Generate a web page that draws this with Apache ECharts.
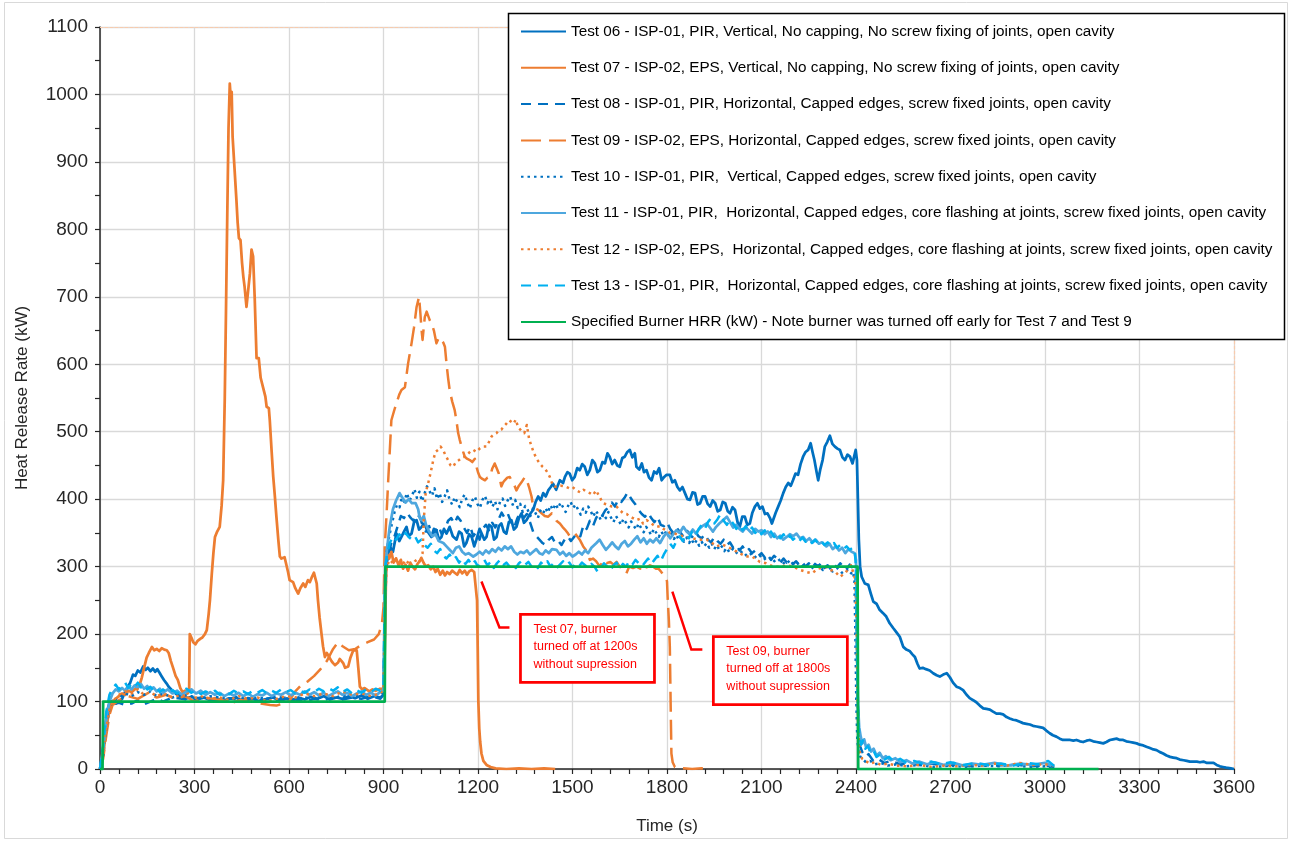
<!DOCTYPE html>
<html>
<head>
<meta charset="utf-8">
<script src="https://cdn.jsdelivr.net/npm/echarts@6/dist/echarts.min.js"></script>
<style>
  html, body { margin: 0; padding: 0; background: #fff; }
  #chart { width: 1290px; height: 841px; }
</style>
</head>
<body>
<div id="chart"></div>
<script>
// Heat release rate curves, [time s, HRR kW]
const seriesNames = [
  'Test 06 - ISP-01, PIR, Vertical, No capping, No screw fixing of joints, open cavity',
  'Test 07 - ISP-02, EPS, Vertical, No capping, No screw fixing of joints, open cavity',
  'Test 08 - ISP-01, PIR, Horizontal, Capped edges, screw fixed joints, open cavity',
  'Test 09 - ISP-02, EPS, Horizontal, Capped edges, screw fixed joints, open cavity',
  'Test 10 - ISP-01, PIR,  Vertical, Capped edges, screw fixed joints, open cavity',
  'Test 11 - ISP-01, PIR,  Horizontal, Capped edges, core flashing at joints, screw fixed joints, open cavity',
  'Test 12 - ISP-02, EPS,  Horizontal, Capped edges, core flashing at joints, screw fixed joints, open cavity',
  'Test 13 - ISP-01, PIR,  Horizontal, Capped edges, core flashing at joints, screw fixed joints, open cavity',
  'Specified Burner HRR (kW) - Note burner was turned off early for Test 7 and Test 9'
];

const timeTicks = { min: 0, max: 3600, step: 300 };
const hrrTicks = { min: 0, max: 1100, step: 100 };

const test06 = [[0,0],[8,20],[15,55],[22,85],[30,98],[40,101],[50,97],[60,100],[70,104],[80,115],[88,122],[96,128],[105,140],[112,138],[120,146],[128,143],[137,152],[145,147],[152,150],[160,145],[168,149],[175,144],[182,148],[190,142],[196,137],[203,132],[211,127],[218,122],[226,118],[235,114],[245,110],[255,108],[270,104],[290,107],[310,103],[330,106],[350,102],[370,105],[390,101],[410,104],[430,106],[450,102],[470,105],[490,103],[510,100],[530,104],[550,106],[570,101],[590,104],[610,102],[630,106],[650,103],[670,107],[690,104],[710,108],[730,103],[750,106],[770,104],[790,108],[810,105],[830,109],[850,104],[870,108],[890,106],[900,110],[904,200],[908,300],[914,318],[920,330],[930,322],[941,349],[950,338],[957,344],[965,352],[973,359],[980,345],[989,349],[997,366],[1005,369],[1013,355],[1021,359],[1030,364],[1040,352],[1052,344],[1060,356],[1068,354],[1076,340],[1084,344],[1092,356],[1100,349],[1110,359],[1120,345],[1132,340],[1140,352],[1148,349],[1156,330],[1163,335],[1172,348],[1180,344],[1188,330],[1195,340],[1205,356],[1211,354],[1220,340],[1227,344],[1235,362],[1243,359],[1251,340],[1259,344],[1266,360],[1274,364],[1282,352],[1290,349],[1298,366],[1306,369],[1314,355],[1322,359],[1330,372],[1338,379],[1346,365],[1354,369],[1365,378],[1375,384],[1383,396],[1391,404],[1399,398],[1407,409],[1415,404],[1423,413],[1431,418],[1438,423],[1448,414],[1460,428],[1470,424],[1476,433],[1484,440],[1491,438],[1499,428],[1507,433],[1515,446],[1523,443],[1531,452],[1539,448],[1547,436],[1555,443],[1563,458],[1571,453],[1579,440],[1587,443],[1595,455],[1603,453],[1611,468],[1618,463],[1626,452],[1634,458],[1642,450],[1650,448],[1658,461],[1666,463],[1674,470],[1682,473],[1690,462],[1698,468],[1703,448],[1712,444],[1720,453],[1727,440],[1735,443],[1743,432],[1751,428],[1759,441],[1767,438],[1775,446],[1783,428],[1791,433],[1798,436],[1809,436],[1817,425],[1825,428],[1833,418],[1841,413],[1849,418],[1857,409],[1865,400],[1873,399],[1881,410],[1889,409],[1897,392],[1905,394],[1913,404],[1921,404],[1929,393],[1937,389],[1945,398],[1953,394],[1961,382],[1969,384],[1977,396],[1985,394],[1993,382],[2000,379],[2008,388],[2016,384],[2024,366],[2031,359],[2039,374],[2047,374],[2055,362],[2063,364],[2071,380],[2079,389],[2087,394],[2095,386],[2103,389],[2111,378],[2119,379],[2127,372],[2133,364],[2137,364],[2145,380],[2153,389],[2161,398],[2169,409],[2177,418],[2185,424],[2193,420],[2200,428],[2208,438],[2216,436],[2224,452],[2232,463],[2240,470],[2248,473],[2256,483],[2262,470],[2268,458],[2275,440],[2280,428],[2287,445],[2294,458],[2301,478],[2309,485],[2317,494],[2325,482],[2333,478],[2341,475],[2349,473],[2357,462],[2365,458],[2373,466],[2381,463],[2389,453],[2395,465],[2399,473],[2403,458],[2406,400],[2409,340],[2413,300],[2418,285],[2428,275],[2439,273],[2447,260],[2455,248],[2465,245],[2475,236],[2486,231],[2496,226],[2507,216],[2518,209],[2528,203],[2539,196],[2550,181],[2560,177],[2570,175],[2579,170],[2587,166],[2595,156],[2602,149],[2612,150],[2622,148],[2634,146],[2645,142],[2656,139],[2666,137],[2677,140],[2688,142],[2698,136],[2708,128],[2719,122],[2730,120],[2740,117],[2751,110],[2761,105],[2772,102],[2782,99],[2793,94],[2804,90],[2814,89],[2825,88],[2835,85],[2846,82],[2857,82],[2867,81],[2878,77],[2888,75],[2899,73],[2910,72],[2920,70],[2930,68],[2941,67],[2952,66],[2962,64],[2973,63],[2983,62],[2994,61],[3004,57],[3015,53],[3025,50],[3036,48],[3047,45],[3057,43],[3068,43],[3080,43],[3090,42],[3100,43],[3111,41],[3121,40],[3132,42],[3142,43],[3153,41],[3164,40],[3174,39],[3185,38],[3195,40],[3206,43],[3216,44],[3227,45],[3238,43],[3248,43],[3258,41],[3270,40],[3280,39],[3291,38],[3301,36],[3312,35],[3322,33],[3333,31],[3344,29],[3354,28],[3365,25],[3375,23],[3386,20],[3397,18],[3407,17],[3418,16],[3428,14],[3440,13],[3450,12],[3460,11],[3470,11],[3482,11],[3492,10],[3503,11],[3514,9],[3524,9],[3535,9],[3545,6],[3555,4],[3565,3],[3575,2],[3590,1],[3600,0]];

const test07 = [[0,0],[10,20],[20,60],[30,90],[40,100],[50,104],[60,108],[70,112],[80,110],[90,116],[100,114],[110,118],[120,122],[128,128],[133,136],[140,150],[148,165],[155,172],[165,181],[172,176],[180,178],[188,175],[196,179],[204,177],[212,176],[218,172],[225,160],[232,150],[240,138],[247,132],[255,120],[262,114],[270,116],[278,112],[283,115],[285,200],[290,195],[296,188],[303,185],[310,190],[318,193],[325,195],[333,200],[339,206],[345,230],[349,250],[355,290],[360,320],[365,344],[372,352],[380,359],[386,390],[391,428],[394,500],[396,547],[400,680],[404,820],[408,950],[412,1016],[415,995],[418,1004],[421,937],[426,935],[433,844],[437,810],[441,787],[446,784],[451,750],[455,730],[459,715],[465,685],[470,685],[476,735],[481,770],[486,760],[491,700],[497,609],[504,609],[510,580],[514,582],[518,565],[525,552],[529,537],[536,535],[539,517],[545,470],[550,433],[555,405],[560,374],[566,340],[571,315],[576,312],[581,310],[586,314],[592,312],[597,292],[602,280],[608,282],[613,277],[620,268],[629,260],[636,268],[645,275],[652,270],[660,280],[666,277],[673,285],[679,291],[685,290],[688,275],[692,250],[697,225],[703,201],[708,182],[714,166],[720,172],[725,168],[730,169],[735,160],[740,157],[746,154],[751,152],[756,158],[761,163],[767,160],[772,157],[778,150],[783,148],[788,152],[795,165],[804,176],[809,178],[815,176],[820,150],[825,122],[832,118],[840,120],[846,119],[855,115],[865,118],[875,116],[889,119],[897,118],[902,125],[905,200],[908,290],[912,318],[918,312],[925,322],[932,306],[940,312],[948,302],[955,310],[962,297],[970,303],[978,294],[985,306],[992,300],[1000,296],[1008,304],[1015,308],[1020,313],[1028,305],[1035,300],[1042,302],[1050,296],[1058,300],[1065,292],[1072,297],[1080,288],[1088,294],[1095,287],[1102,292],[1110,289],[1118,294],[1126,291],[1134,288],[1142,295],[1150,290],[1158,294],[1165,288],[1172,293],[1180,295],[1188,292],[1194,290],[1197,250],[1199,180],[1201,102],[1204,60],[1207,40],[1211,23],[1217,12],[1227,6],[1240,3],[1256,1],[1290,0],[1330,1],[1370,0],[1410,1],[1445,0]];

const test08 = [[0,0],[10,30],[20,70],[30,92],[40,96],[60,98],[80,95],[100,97],[120,102],[140,96],[160,100],[180,104],[200,100],[230,106],[260,104],[290,102],[320,106],[350,103],[380,100],[410,105],[440,102],[470,104],[500,101],[530,104],[560,102],[590,106],[620,103],[650,100],[680,104],[710,102],[740,106],[770,103],[800,106],[830,104],[860,108],[890,104],[900,110],[904,240],[908,300],[915,320],[925,335],[935,345],[945,360],[955,375],[965,372],[975,380],[985,373],[995,368],[1005,378],[1015,374],[1025,360],[1035,352],[1045,360],[1055,345],[1065,352],[1075,360],[1085,348],[1095,355],[1105,368],[1115,372],[1125,364],[1135,374],[1145,368],[1155,358],[1165,350],[1175,360],[1185,345],[1195,352],[1205,340],[1215,356],[1225,362],[1235,354],[1245,365],[1255,358],[1265,370],[1275,380],[1285,372],[1295,378],[1305,366],[1315,358],[1325,372],[1335,380],[1345,372],[1355,378],[1365,366],[1375,352],[1385,345],[1395,340],[1405,335],[1415,332],[1425,340],[1435,344],[1445,335],[1455,338],[1465,332],[1475,340],[1485,345],[1495,338],[1505,344],[1515,350],[1525,345],[1535,362],[1545,356],[1555,368],[1565,360],[1575,372],[1585,380],[1595,376],[1605,384],[1615,388],[1625,395],[1635,389],[1645,400],[1655,396],[1665,402],[1675,410],[1682,404],[1690,398],[1700,392],[1710,384],[1720,378],[1730,374],[1740,380],[1750,372],[1760,366],[1770,374],[1780,362],[1790,360],[1800,366],[1810,356],[1820,350],[1830,358],[1840,352],[1850,346],[1860,355],[1870,350],[1880,344],[1890,352],[1900,345],[1910,342],[1920,348],[1930,340],[1940,336],[1950,344],[1960,338],[1970,334],[1980,340],[1990,332],[2000,336],[2010,328],[2020,332],[2030,324],[2040,330],[2050,322],[2060,326],[2070,320],[2080,324],[2090,316],[2100,320],[2110,314],[2120,318],[2130,310],[2140,316],[2150,312],[2160,306],[2170,312],[2180,306],[2190,310],[2200,304],[2210,308],[2220,302],[2230,306],[2240,300],[2250,305],[2260,298],[2270,304],[2280,300],[2290,306],[2300,298],[2310,302],[2320,296],[2330,303],[2340,299],[2350,305],[2360,300],[2370,296],[2380,303],[2390,298],[2398,295],[2402,220],[2405,120],[2408,60],[2412,35],[2420,25],[2430,18],[2440,22],[2455,12],[2470,15],[2490,9],[2510,12],[2540,7],[2570,9],[2600,6],[2640,8],[2680,5],[2720,7],[2760,4],[2800,6],[2850,5],[2900,7],[2950,4],[3000,5],[3030,3]];

const test09 = [[0,0],[10,15],[20,50],[30,80],[40,95],[60,102],[90,108],[120,104],[150,112],[180,106],[210,110],[240,104],[270,108],[300,100],[330,106],[360,104],[390,102],[420,98],[450,103],[480,100],[510,97],[540,95],[560,94],[580,97],[600,100],[620,115],[640,125],[660,130],[680,138],[700,148],[720,160],[740,178],[756,188],[770,182],[790,176],[810,178],[830,184],[850,188],[870,192],[885,200],[895,215],[900,240],[904,330],[910,380],[915,428],[925,517],[933,530],[941,542],[950,555],[957,562],[968,566],[978,601],[989,631],[997,655],[1005,685],[1013,700],[1017,676],[1021,650],[1024,636],[1031,670],[1037,678],[1042,676],[1047,665],[1052,661],[1060,650],[1068,631],[1076,640],[1084,636],[1090,632],[1095,626],[1100,601],[1105,580],[1110,562],[1118,545],[1126,532],[1132,515],[1137,498],[1142,488],[1148,478],[1153,470],[1158,463],[1165,460],[1174,458],[1182,455],[1190,460],[1195,448],[1200,440],[1206,433],[1214,430],[1222,428],[1230,432],[1238,433],[1245,445],[1253,453],[1260,445],[1266,438],[1274,419],[1280,425],[1285,428],[1293,432],[1301,433],[1311,423],[1316,420],[1322,413],[1330,420],[1338,425],[1349,433],[1355,428],[1362,418],[1370,404],[1375,389],[1383,386],[1391,384],[1402,379],[1412,375],[1423,374],[1434,379],[1442,374],[1449,368],[1460,364],[1468,359],[1476,355],[1486,349],[1493,344],[1500,346],[1508,349],[1515,345],[1523,340],[1534,330],[1542,325],[1549,318],[1555,310],[1565,312],[1575,308],[1587,300],[1598,310],[1608,305],[1620,307],[1630,303],[1640,307],[1650,300],[1660,296],[1671,290],[1680,300],[1692,298],[1703,300],[1715,297],[1726,303],[1735,299],[1746,302],[1756,300],[1765,297],[1773,297],[1782,292],[1790,288],[1796,285],[1800,278],[1802,255],[1806,220],[1809,181],[1812,83],[1814,23],[1818,10],[1825,3],[1850,1],[1880,0],[1910,1],[1935,0]];

const test10 = [[0,0],[10,20],[20,60],[30,90],[40,100],[60,106],[80,112],[100,108],[120,114],[140,110],[160,115],[180,108],[200,112],[230,106],[260,110],[290,108],[320,104],[350,108],[380,106],[410,104],[440,107],[470,103],[500,106],[530,104],[560,107],[590,105],[620,103],[650,106],[680,104],[710,108],[740,105],[770,109],[800,106],[830,110],[860,107],[890,112],[900,114],[903,200],[906,290],[910,322],[918,345],[926,362],[935,381],[943,392],[951,388],[958,402],[966,396],[974,409],[982,398],[990,404],[998,415],[1006,402],[1014,411],[1022,397],[1030,408],[1038,419],[1046,412],[1054,405],[1062,416],[1070,400],[1078,409],[1086,396],[1094,404],[1102,413],[1110,399],[1118,392],[1126,403],[1134,396],[1142,388],[1150,401],[1158,407],[1166,395],[1174,386],[1182,398],[1190,404],[1198,393],[1206,387],[1214,399],[1222,405],[1230,394],[1238,400],[1246,389],[1254,397],[1262,385],[1270,396],[1278,401],[1286,390],[1294,398],[1302,404],[1310,392],[1318,399],[1326,387],[1334,393],[1342,381],[1350,390],[1358,384],[1366,375],[1374,386],[1382,380],[1390,372],[1398,383],[1406,378],[1414,387],[1422,380],[1430,391],[1438,384],[1446,393],[1454,386],[1462,395],[1470,388],[1478,381],[1486,390],[1494,396],[1502,387],[1510,392],[1518,384],[1526,377],[1534,386],[1542,380],[1550,389],[1558,382],[1566,374],[1574,383],[1582,377],[1590,369],[1598,378],[1606,372],[1614,381],[1622,373],[1630,366],[1638,375],[1646,369],[1654,362],[1662,371],[1670,365],[1678,358],[1686,367],[1694,361],[1702,355],[1710,364],[1718,357],[1726,351],[1734,359],[1742,353],[1750,347],[1758,356],[1766,350],[1774,344],[1782,352],[1790,346],[1798,353],[1806,344],[1814,349],[1822,341],[1830,347],[1838,339],[1846,345],[1854,337],[1862,343],[1870,335],[1878,341],[1886,333],[1894,339],[1902,331],[1910,337],[1918,330],[1926,335],[1934,328],[1942,334],[1950,326],[1958,332],[1966,325],[1974,330],[1982,323],[1990,328],[1998,321],[2010,327],[2025,318],[2040,323],[2055,315],[2070,320],[2085,312],[2100,317],[2115,309],[2130,314],[2145,306],[2160,311],[2175,303],[2190,309],[2205,301],[2220,306],[2235,299],[2250,304],[2265,297],[2280,302],[2295,295],[2310,300],[2325,293],[2340,298],[2355,291],[2370,296],[2382,289],[2390,293],[2395,280],[2398,200],[2401,100],[2404,45],[2408,25],[2414,18],[2422,14],[2432,10],[2445,12],[2460,7],[2480,9],[2500,5],[2530,7],[2560,4],[2600,6],[2650,3],[2700,5],[2750,3],[2800,5],[2850,4],[2900,6],[2950,3],[3000,4],[3030,2]];

const test11 = [[0,0],[10,30],[20,75],[30,100],[40,112],[50,118],[60,115],[70,120],[80,116],[90,122],[100,118],[110,124],[120,120],[130,126],[140,119],[150,123],[160,117],[170,121],[180,115],[190,119],[200,113],[215,118],[230,112],[245,116],[260,110],[275,115],[290,118],[305,112],[320,116],[335,110],[350,114],[365,110],[380,113],[395,108],[410,112],[425,109],[440,113],[455,108],[470,112],[485,107],[500,111],[515,109],[530,113],[545,108],[560,112],[575,110],[590,114],[605,109],[620,113],[635,110],[650,115],[665,110],[680,114],[695,109],[710,113],[725,108],[740,112],[755,115],[770,110],[785,113],[800,108],[815,112],[830,115],[845,110],[860,113],[875,109],[890,114],[900,116],[903,220],[906,300],[912,330],[920,360],[930,385],[940,398],[951,409],[960,402],[970,395],[980,400],[990,394],[1002,394],[1010,385],[1015,372],[1020,369],[1028,375],[1035,362],[1045,352],[1055,345],[1065,348],[1075,338],[1090,335],[1100,330],[1110,325],[1120,320],[1130,328],[1140,330],[1150,322],[1160,318],[1170,320],[1185,315],[1195,318],[1205,322],[1215,318],[1225,324],[1235,320],[1245,326],[1255,322],[1265,328],[1275,324],[1285,330],[1295,326],[1305,330],[1315,322],[1325,318],[1335,322],[1345,320],[1355,324],[1365,318],[1375,322],[1385,326],[1395,320],[1405,318],[1415,324],[1425,320],[1435,326],[1449,325],[1460,318],[1470,322],[1480,316],[1490,320],[1500,315],[1510,318],[1520,322],[1530,318],[1540,324],[1550,320],[1560,328],[1576,335],[1586,340],[1596,332],[1606,325],[1616,330],[1626,336],[1636,330],[1646,326],[1656,334],[1666,338],[1676,330],[1686,334],[1696,340],[1706,345],[1716,336],[1726,342],[1736,334],[1746,340],[1756,336],[1766,342],[1778,335],[1790,345],[1800,350],[1810,342],[1820,348],[1830,354],[1840,350],[1852,359],[1862,352],[1872,348],[1882,355],[1892,349],[1902,356],[1912,360],[1926,364],[1936,358],[1946,352],[1956,359],[1966,364],[1976,368],[1990,374],[2000,366],[2010,358],[2020,362],[2030,356],[2040,352],[2050,358],[2060,354],[2070,349],[2080,356],[2090,352],[2100,354],[2110,348],[2120,352],[2130,344],[2140,349],[2150,342],[2160,346],[2169,340],[2180,344],[2190,348],[2200,345],[2211,349],[2222,342],[2232,344],[2242,338],[2252,342],[2262,336],[2272,340],[2282,334],[2292,336],[2306,330],[2316,334],[2326,326],[2336,330],[2346,324],[2356,328],[2366,320],[2376,326],[2386,322],[2396,320],[2400,310],[2403,200],[2406,100],[2410,62],[2415,48],[2420,38],[2426,44],[2432,32],[2440,36],[2448,26],[2456,30],[2465,20],[2475,24],[2485,16],[2495,19],[2510,13],[2525,16],[2540,10],[2560,13],[2580,8],[2600,11],[2625,7],[2650,10],[2680,6],[2710,9],[2740,5],[2770,8],[2800,6],[2840,9],[2880,5],[2920,8],[2960,6],[3000,9],[3020,5]];

const test12 = [[0,0],[10,25],[20,60],[30,88],[40,100],[60,110],[80,115],[100,112],[120,118],[140,110],[160,114],[180,108],[200,112],[230,106],[260,110],[290,104],[320,108],[350,104],[380,106],[410,102],[440,108],[470,104],[500,106],[530,100],[560,104],[590,108],[620,106],[650,112],[680,108],[710,112],[740,108],[770,115],[800,110],[830,112],[860,108],[890,112],[900,118],[905,250],[910,300],[920,310],[930,305],[940,312],[950,308],[960,302],[970,310],[980,305],[990,300],[1000,308],[1010,312],[1018,305],[1024,320],[1028,370],[1034,410],[1042,424],[1050,440],[1058,458],[1065,470],[1073,473],[1081,478],[1089,473],[1097,465],[1105,458],[1113,450],[1121,448],[1130,455],[1140,458],[1150,462],[1160,463],[1170,468],[1178,472],[1185,473],[1195,470],[1205,475],[1215,478],[1227,478],[1235,485],[1243,493],[1251,496],[1259,498],[1266,502],[1274,503],[1282,508],[1290,512],[1298,517],[1305,515],[1313,512],[1320,518],[1327,507],[1333,507],[1340,500],[1347,498],[1355,510],[1362,490],[1370,478],[1378,468],[1386,460],[1396,453],[1405,448],[1413,445],[1420,440],[1428,433],[1434,425],[1438,419],[1450,418],[1462,420],[1476,419],[1490,416],[1500,418],[1513,413],[1525,410],[1535,414],[1545,411],[1555,409],[1565,406],[1575,413],[1585,404],[1597,394],[1610,392],[1625,389],[1640,389],[1650,384],[1661,379],[1672,378],[1682,374],[1692,372],[1703,369],[1714,371],[1724,364],[1735,369],[1746,366],[1756,362],[1767,359],[1777,360],[1788,356],[1798,354],[1810,350],[1825,349],[1840,346],[1862,344],[1880,342],[1900,340],[1926,340],[1940,336],[1957,330],[1975,333],[1990,330],[2010,325],[2031,320],[2050,315],[2070,315],[2095,307],[2115,305],[2137,300],[2160,300],[2180,302],[2200,300],[2223,295],[2243,292],[2260,290],[2280,297],[2300,300],[2320,295],[2335,292],[2349,285],[2365,290],[2375,296],[2384,302],[2392,290],[2398,280],[2402,200],[2405,100],[2408,50],[2412,25],[2420,15],[2430,12],[2445,8],[2460,10],[2480,6],[2500,8],[2530,5],[2560,4],[2600,6],[2640,3],[2680,5],[2720,4],[2760,6],[2800,5],[2840,8],[2880,5],[2920,9],[2960,6],[3000,7],[3030,5]];

const test13 = [[0,0],[10,35],[20,85],[30,110],[40,120],[50,125],[60,118],[70,124],[80,128],[90,120],[100,126],[110,122],[120,128],[130,121],[140,125],[150,118],[160,122],[170,116],[180,120],[190,114],[200,118],[215,113],[230,117],[245,112],[260,116],[275,119],[290,113],[305,117],[320,111],[335,115],[350,112],[365,116],[380,110],[395,114],[410,111],[425,116],[440,112],[455,115],[470,111],[485,116],[500,113],[515,117],[530,112],[545,116],[560,113],[575,118],[590,114],[605,117],[620,112],[635,116],[650,113],[665,118],[680,114],[695,119],[710,115],[725,120],[740,116],[755,121],[770,114],[785,118],[800,112],[815,117],[830,113],[845,118],[860,114],[875,119],[890,116],[900,120],[903,230],[906,300],[912,320],[920,335],[930,345],[940,340],[950,348],[960,342],[970,350],[980,344],[990,340],[1000,345],[1010,336],[1020,340],[1030,332],[1040,328],[1050,334],[1060,324],[1070,320],[1080,326],[1090,316],[1100,312],[1110,318],[1120,310],[1130,314],[1140,306],[1150,312],[1160,304],[1170,310],[1180,302],[1190,308],[1200,300],[1210,306],[1220,310],[1230,302],[1240,307],[1250,298],[1260,305],[1270,310],[1280,302],[1290,306],[1300,300],[1310,304],[1320,298],[1330,305],[1340,309],[1350,303],[1360,307],[1370,300],[1380,304],[1390,298],[1400,306],[1410,302],[1420,308],[1430,300],[1440,305],[1450,298],[1460,303],[1470,308],[1480,302],[1490,306],[1500,299],[1510,304],[1520,300],[1530,306],[1540,302],[1550,298],[1560,304],[1570,300],[1580,292],[1590,298],[1600,305],[1610,300],[1620,294],[1630,302],[1640,306],[1650,298],[1660,304],[1670,300],[1680,308],[1690,303],[1700,310],[1710,305],[1720,300],[1730,306],[1740,312],[1750,304],[1760,310],[1770,316],[1780,308],[1790,318],[1800,326],[1810,334],[1820,328],[1830,338],[1840,345],[1850,338],[1860,348],[1870,342],[1880,352],[1890,346],[1900,355],[1910,362],[1920,356],[1930,366],[1940,372],[1950,364],[1960,370],[1970,378],[1980,368],[1990,362],[2000,370],[2010,364],[2020,356],[2030,362],[2040,354],[2050,360],[2060,352],[2070,358],[2080,350],[2090,356],[2100,348],[2110,354],[2120,346],[2130,352],[2140,344],[2150,350],[2160,342],[2170,348],[2180,340],[2190,346],[2200,340],[2210,344],[2220,338],[2230,343],[2240,337],[2250,341],[2260,335],[2270,340],[2280,334],[2290,338],[2300,332],[2310,336],[2320,330],[2330,335],[2340,328],[2350,332],[2360,326],[2370,330],[2380,325],[2390,328],[2396,324],[2400,300],[2403,180],[2406,90],[2410,50],[2416,36],[2422,42],[2430,30],[2438,34],[2446,24],[2455,28],[2465,18],[2478,22],[2490,14],[2505,18],[2520,11],[2540,15],[2560,9],[2585,12],[2610,8],[2640,11],[2670,7],[2700,10],[2740,6],[2780,9],[2820,6],[2860,8],[2900,5],[2940,9],[2980,7],[3010,12],[3030,4]];

const burner = [[0,0],[8,0],[10,100],[904,100],[906,300],[2405,300],[2407,0],[3170,0]];

// callout texts with the points they refer to
const callouts = [
  { lines: ['Test 07, burner', 'turned off at 1200s', 'without supression'], at: [1211, 278] },
  { lines: ['Test 09, burner', 'turned off at 1800s', 'without supression'], at: [1817, 263] }
];

const FONT = '"Liberation Sans", Arial, sans-serif';
const AXIS_COLOR = '#262626';

function lineSeries(name, data, color, width, dash) {
  return {
    name, type: 'line', data, symbol: 'none', showSymbol: false,
    lineStyle: { color, width, type: dash || 'solid', join: 'round' },
    itemStyle: { color },
    emphasis: { disabled: true },
    silent: true
  };
}

const series = [
  lineSeries(seriesNames[0], test06, '#0070C0', 2.75),
  lineSeries(seriesNames[1], test07, '#ED7D31', 2.75),
  lineSeries(seriesNames[2], test08, '#0070C0', 2.5, [10, 7]),
  lineSeries(seriesNames[3], test09, '#ED7D31', 2.5, [20, 8]),
  lineSeries(seriesNames[4], test10, '#0070C0', 2.5, [2.5, 4]),
  lineSeries(seriesNames[5], test11, '#4EA7DE', 2.75),
  lineSeries(seriesNames[6], test12, '#ED7D31', 2.5, [2.5, 4]),
  lineSeries(seriesNames[7], test13, '#00B0F0', 2.5, [10, 7]),
  lineSeries(seriesNames[8], burner, '#00B050', 2.75)
];

const chart = echarts.init(document.getElementById('chart'), null, { renderer: 'canvas' });

const option = {
  animation: false,
  backgroundColor: '#fff',
  textStyle: { fontFamily: FONT },
  grid: { left: 100, right: 56, top: 27, bottom: 72, containLabel: false },
  legend: {
    show: true, orient: 'vertical', left: 520, top: 24, padding: 0,
    itemWidth: 45, itemHeight: 14, itemGap: 21.3,
    selectedMode: false, z: 10,
    itemStyle: { opacity: 0 },
    textStyle: { fontSize: 15.3, color: '#000', fontFamily: FONT },
    data: seriesNames
  },
  xAxis: [{
    type: 'value', min: timeTicks.min, max: timeTicks.max, interval: timeTicks.step,
    name: 'Time (s)', nameLocation: 'middle', nameGap: 49,
    nameTextStyle: { fontSize: 17, color: AXIS_COLOR, fontFamily: FONT },
    axisLine: { show: true, onZero: false, lineStyle: { color: AXIS_COLOR, width: 1.5 } },
    axisTick: { show: true, length: 5, lineStyle: { color: AXIS_COLOR, width: 1.2 } },
    minorTick: { show: true, splitNumber: 5, length: 5, lineStyle: { color: AXIS_COLOR, width: 1.2 } },
    axisLabel: { fontSize: 19, color: AXIS_COLOR, margin: 9, fontFamily: FONT, formatter: v => String(v) },
    splitLine: { show: true, lineStyle: { color: '#d9d9d9', width: 1.3 } }
  }, {
    type: 'value', min: timeTicks.min, max: timeTicks.max, position: 'top',
    axisLine: { show: true, onZero: false, lineStyle: { color: '#F8CBAD', width: 1.2, type: [3, 2] } },
    axisTick: { show: false }, axisLabel: { show: false }, splitLine: { show: false }
  }],
  yAxis: [{
    type: 'value', min: hrrTicks.min, max: hrrTicks.max, interval: hrrTicks.step,
    name: 'Heat Release Rate (kW)', nameLocation: 'middle', nameGap: 69,
    nameTextStyle: { fontSize: 17, color: AXIS_COLOR, fontFamily: FONT },
    axisLine: { show: true, onZero: false, lineStyle: { color: AXIS_COLOR, width: 1.5 } },
    axisTick: { show: true, length: 5, lineStyle: { color: AXIS_COLOR, width: 1.2 } },
    minorTick: { show: true, splitNumber: 2, length: 5, lineStyle: { color: AXIS_COLOR, width: 1.2 } },
    axisLabel: { fontSize: 19, color: AXIS_COLOR, margin: 12, fontFamily: FONT, formatter: v => String(v) },
    splitLine: { show: true, lineStyle: { color: '#d9d9d9', width: 1.3 } }
  }, {
    type: 'value', min: hrrTicks.min, max: hrrTicks.max, position: 'right',
    axisLine: { show: true, onZero: false, lineStyle: { color: '#F8CBAD', width: 1.2, type: [3, 2] } },
    axisTick: { show: false }, axisLabel: { show: false }, splitLine: { show: false }
  }],
  series
};

chart.setOption(option);

// Legend frame, outer frame and the red callouts
const px = (t, v) => chart.convertToPixel({ xAxisIndex: 0, yAxisIndex: 0 }, [t, v]);
const graphics = [
  { type: 'rect', z: 0, silent: true, shape: { x: 4.5, y: 2.5, width: 1283, height: 836 },
    style: { fill: 'none', stroke: '#d9d9d9', lineWidth: 1 } },
  { type: 'rect', z: 5, silent: true, shape: { x: 508.5, y: 13.5, width: 776, height: 326 },
    style: { fill: '#fff', stroke: '#000', lineWidth: 1.5 } }
];

// leader geometry: start offset from anchor, then elbow, then box
const calloutLayout = [
  { elbow: [18, 46], end: [28, 46], box: [39, 33, 134, 68] },
  { elbow: [19, 58], end: [30, 58], box: [41, 45, 134, 68] }
];
callouts.forEach((c, i) => {
  const [ax, ay] = px(c.at[0], c.at[1]);
  const L = calloutLayout[i];
  graphics.push({
    type: 'polyline', z: 6, silent: true,
    shape: { points: [[ax, ay], [ax + L.elbow[0], ay + L.elbow[1]], [ax + L.end[0], ay + L.end[1]]] },
    style: { stroke: '#FF0000', lineWidth: 2.5, fill: null }
  });
  const bx = ax + L.box[0], by = ay + L.box[1];
  graphics.push({
    type: 'rect', z: 6, silent: true,
    shape: { x: bx, y: by, width: L.box[2], height: L.box[3] },
    style: { fill: '#fff', stroke: '#FF0000', lineWidth: 2.75 }
  });
  graphics.push({
    type: 'text', z: 7, silent: true, x: bx + 13, y: by + 6.5,
    style: { text: c.lines.join('\n'), fill: '#FF0000', fontSize: 12.5, fontFamily: FONT,
             lineHeight: 17.3, align: 'left', verticalAlign: 'top' }
  });
});
chart.setOption({ graphic: { elements: graphics } });
</script>
</body>
</html>
